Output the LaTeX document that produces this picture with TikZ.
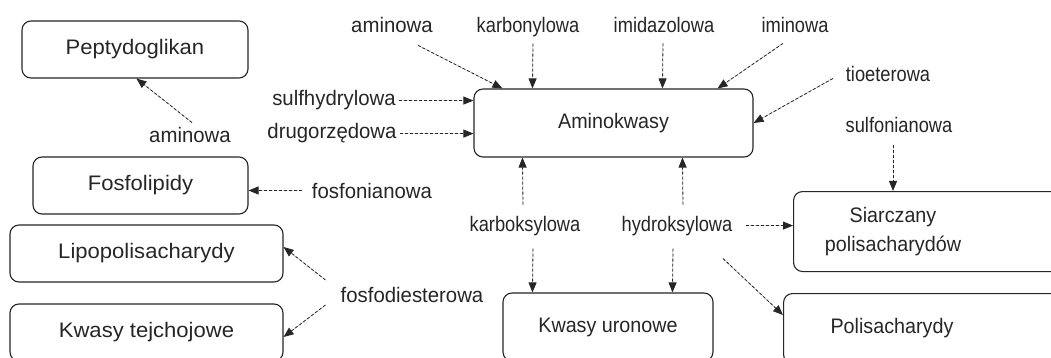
\documentclass[tikz,border=0pt]{standalone}
\usepackage{fontspec}
\setmainfont{Liberation Sans}
\newfontfamily\boxfont[FakeStretch=0.94]{Liberation Sans}
\newfontfamily\boxLfont[FakeStretch=1.05]{Liberation Sans}
\newfontfamily\labfont[FakeStretch=0.87]{Liberation Sans}
\newfontfamily\labLfont[FakeStretch=0.97]{Liberation Sans}
\usetikzlibrary{arrows.meta, positioning, calc}

\tikzset{
  box/.style={draw=black!85, rounded corners=9pt, line width=1.1pt, inner sep=0pt, align=center,
    text=black!85, font=\boxfont\fontsize{21}{29}\selectfont},
  boxL/.style={box, font=\boxLfont\fontsize{21}{26}\selectfont},
  boxtext/.style={inner sep=0pt, align=center, text=black!85, font=\boxfont\fontsize{21}{29}\selectfont},
  lab/.style={inner sep=0pt, anchor=base, text=black!85, font=\labfont\fontsize{21}{24}\selectfont},
  labL/.style={lab, font=\labLfont\fontsize{21}{24}\selectfont},
  link/.style={-{Triangle[length=10pt,width=8pt]}, draw=black!85, fill=black!85,
    line width=0.8pt, dash pattern=on 3pt off 2pt}
}

\begin{document}
\begin{tikzpicture}[x=1pt, y=-1pt]
    \clip (0,0) rectangle (1051,358);
    \fill[white] (0,0) rectangle (1051,358);
    % Boxes
    \node[box, minimum width=279, minimum height=68] (amino) at (613.5,123) {Aminokwasy};
    \node[boxL, minimum width=226, minimum height=57] (pept) at (135,49.5) {Peptydoglikan};
    \node[boxL, minimum width=215, minimum height=57] (fosfol) at (140.5,185.5) {Fosfolipidy};
    \node[boxL, minimum width=273, minimum height=57] (lipo) at (146.5,253.5) {Lipopolisacharydy};
    \node[boxL, minimum width=273, minimum height=57] (tejch) at (146.5,332.5) {Kwasy tejchojowe};
    \node[box, minimum width=210, minimum height=68] (uron) at (608,327) {Kwasy uronowe};
    \node[box, minimum width=272, minimum height=80, anchor=north west] (siarczBox) at (793,191) {};
    \node[boxtext] (siarcz) at (893,232) {Siarczany\\polisacharydów};
    \node[box, minimum width=282, minimum height=70, anchor=north west] (polisBox) at (783,293) {};
    \node[boxtext] (polis) at (892,328) {Polisacharydy};

    % Labels
    \node[labL] (aminT) at (392,33) {aminowa};
    \node[lab] (karbT) at (528,33) {karbonylowa};
    \node[lab] (imidT) at (664,33) {imidazolowa};
    \node[lab] (iminT) at (795,33) {iminowa};
    \node[lab] (tioT) at (888,82) {tioeterowa};
    \node[lab] (sulfonT) at (899,133) {sulfonianowa};
    \node[labL] (sulfhT) at (334,106) {sulfhydrylowa};
    \node[labL] (drugT) at (332,139) {drugorzędowa};
    \node[labL] (aminL) at (190,143) {aminowa};
    \node[labL] (fosfonT) at (372,198) {fosfonianowa};
    \node[labL] (fosfodT) at (412,302) {fosfodiesterowa};
    \node[lab] (karbokT) at (525,231) {karboksylowa};
    \node[lab] (hydrT) at (677,231) {hydroksylowa};

    % Arrows
    \draw[link] ($(aminT.south)+(26,12)$) -- ($(amino.north west)+(29,0)$);
    \draw[link] ($(karbT.south)+(5,6)$) -- ($(amino.north west)+(59,0)$);
    \draw[link] ($(imidT.south)+(-1,10)$) -- ($(amino.north west)+(189,0)$);
    \draw[link] ($(iminT.south)+(-12,10)$) -- ($(amino.north east)+(-36,0)$);
    \draw[link] ($(tioT.south)+(-55,-4)$) -- (amino.east);
    \draw[link] ([xshift=3pt]sulfhT.east) -- (sulfhT.east -| amino.west);
    \draw[link] ([xshift=3pt]drugT.east) -- (drugT.east -| amino.west);
    \draw[link] ($(karbokT.north)+(-2,-11)$) -- ($(amino.south west)+(49,0)$);
    \draw[link] ($(hydrT.north)+(6,-11)$) -- ($(amino.south west)+(209,0)$);
    \draw[link] ($(karbokT.south)+(8,13)$) -- ($(uron.north west)+(30,0)$);
    \draw[link] ($(hydrT.south)+(-4,13)$) -- ($(uron.north west)+(170,0)$);
    \draw[link] ([xshift=13pt]hydrT.east) -- (hydrT.east -| siarczBox.west);
    \draw[link] ($(hydrT.south)+(46,23)$) -- ($(polisBox.north west)+(0,22)$);
    \draw[link] ($(sulfonT.south)+(-6,12)$) -- ($(siarczBox.north west)+(100,0)$);
    \draw[link] ($(aminL.north)+(2,-5)$) -- ($(pept.south west)+(115,0)$);
    \draw[link] ([xshift=-10pt]fosfonT.west) -- (fosfonT.west -| fosfol.east);
    \draw[link] ($(fosfodT.west)+(-15,-14.5)$) -- ($(lipo.east)+(0,-6.5)$);
    \draw[link] ($(fosfodT.west)+(-15,10.5)$) -- ($(tejch.east)+(0,4.5)$);
\end{tikzpicture}
\end{document}
